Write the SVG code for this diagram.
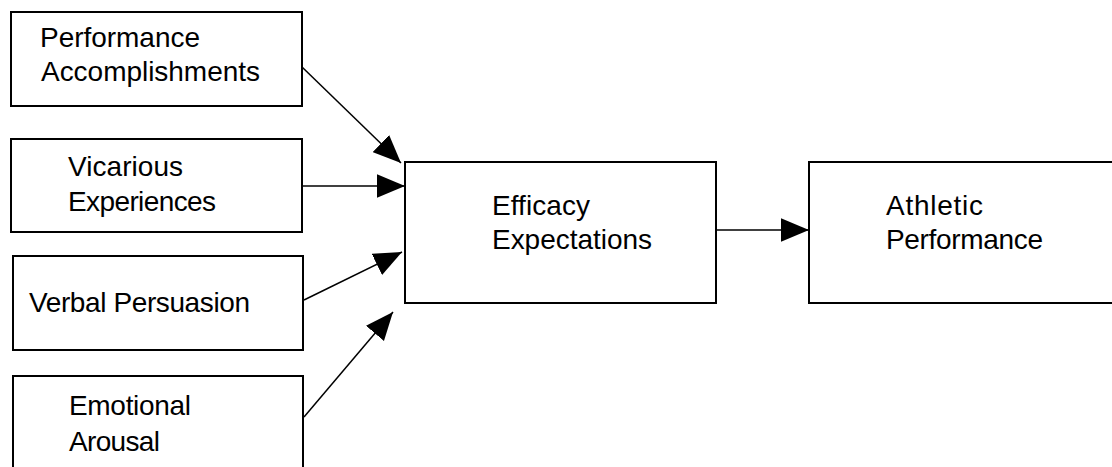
<svg xmlns="http://www.w3.org/2000/svg" width="1112" height="467" viewBox="0 0 1112 467">
<style>
.box{fill:#fff;stroke:#000;stroke-width:2}
.lbl{font-family:"Liberation Sans",Arial,sans-serif;font-size:28px;fill:#000}
.conn{stroke:#000;stroke-width:1.5;fill:none}
</style>
<defs>
<marker id="ah" markerUnits="userSpaceOnUse" markerWidth="28" markerHeight="24" viewBox="0 0 26 22" refX="26" refY="11" orient="auto">
<path d="M0,0 L26,11 L0,22 Z" fill="#000"/>
</marker>
</defs>
<rect width="1112" height="467" fill="#fff"/>
<g id="perf-acc">
<rect class="box" x="11" y="12" width="291" height="94"/>
<text class="lbl" x="40" y="47" textLength="160" lengthAdjust="spacing">Performance</text>
<text class="lbl" x="41" y="81" textLength="219" lengthAdjust="spacing">Accomplishments</text>
</g>
<g id="vicarious">
<rect class="box" x="11" y="139" width="291" height="93"/>
<text class="lbl" x="68" y="176" textLength="115" lengthAdjust="spacing">Vicarious</text>
<text class="lbl" x="68" y="211" textLength="148" lengthAdjust="spacing">Experiences</text>
</g>
<g id="verbal">
<rect class="box" x="13" y="256" width="290" height="94"/>
<text class="lbl" x="29" y="312" textLength="221" lengthAdjust="spacing">Verbal Persuasion</text>
</g>
<g id="emotional">
<rect class="box" x="13" y="376" width="290" height="110"/>
<text class="lbl" x="69" y="415" textLength="122" lengthAdjust="spacing">Emotional</text>
<text class="lbl" x="69" y="451" textLength="91" lengthAdjust="spacing">Arousal</text>
</g>
<g id="efficacy">
<rect class="box" x="405" y="162" width="311" height="141"/>
<text class="lbl" x="492" y="215" textLength="98" lengthAdjust="spacing">Efficacy</text>
<text class="lbl" x="492" y="249" textLength="160" lengthAdjust="spacing">Expectations</text>
</g>
<g id="athletic">
<rect class="box" x="809" y="162" width="320" height="141"/>
<text class="lbl" x="886" y="215" textLength="97" lengthAdjust="spacing">Athletic</text>
<text class="lbl" x="886" y="249" textLength="157" lengthAdjust="spacing">Performance</text>
</g>
<g id="connectors">
<line class="conn" x1="302" y1="67" x2="401" y2="163" marker-end="url(#ah)"/>
<line class="conn" x1="302" y1="186" x2="405" y2="186" marker-end="url(#ah)"/>
<line class="conn" x1="304" y1="300" x2="402" y2="252" marker-end="url(#ah)"/>
<line class="conn" x1="304" y1="417" x2="393" y2="312" marker-end="url(#ah)"/>
<line class="conn" x1="716" y1="230" x2="809" y2="230" marker-end="url(#ah)"/>
</g>
</svg>
